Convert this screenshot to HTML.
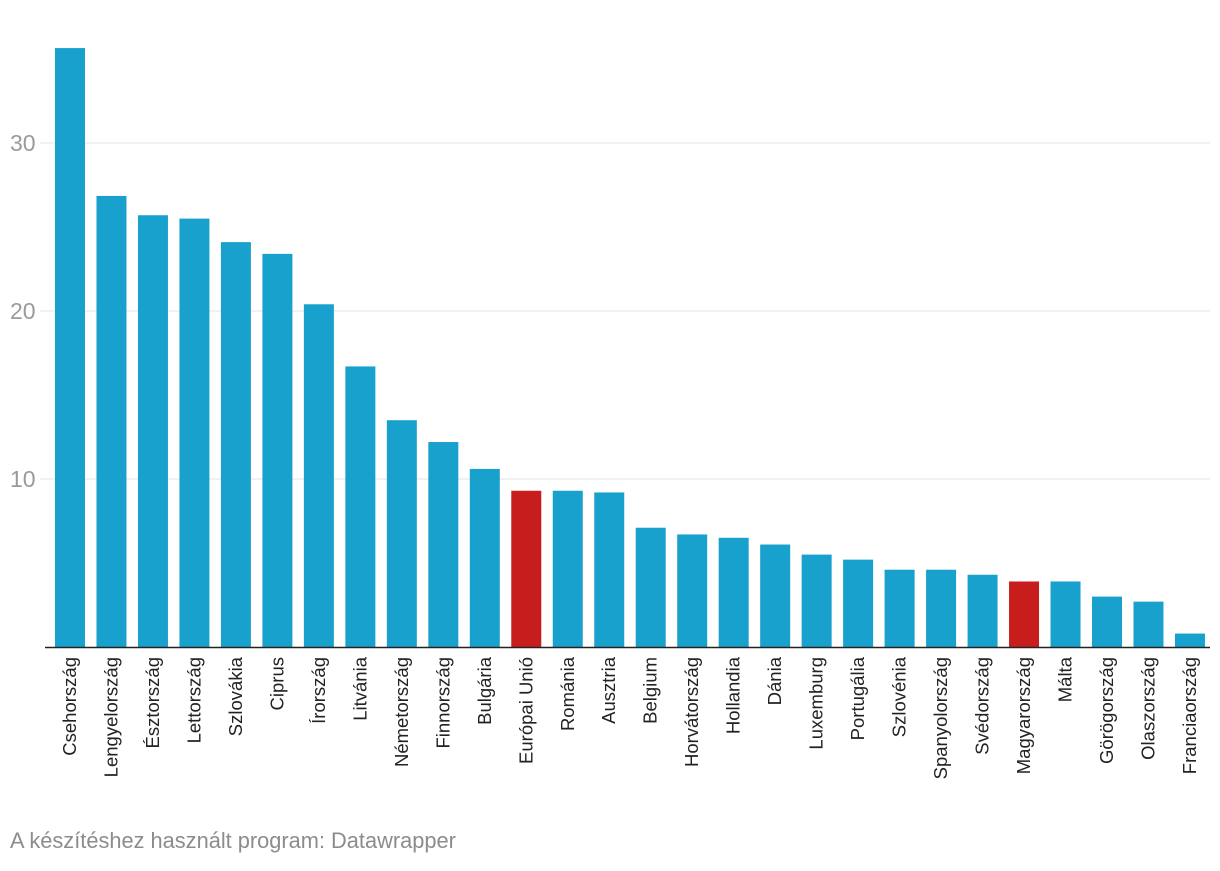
<!DOCTYPE html>
<html><head><meta charset="utf-8"><style>
body{margin:0;background:#fff;width:1220px;height:866px;overflow:hidden;font-family:"Liberation Sans",sans-serif}
</style></head><body>
<svg width="1220" height="866" id="c"></svg>
<script>
const categories=["Csehország","Lengyelország","Észtország","Lettország","Szlovákia","Ciprus","Írország","Litvánia","Németország","Finnország","Bulgária","Európai Unió","Románia","Ausztria","Belgium","Horvátország","Hollandia","Dánia","Luxemburg","Portugália","Szlovénia","Spanyolország","Svédország","Magyarország","Málta","Görögország","Olaszország","Franciaország"];
const values=[35.65,26.85,25.7,25.5,24.1,23.4,20.4,16.7,13.5,12.2,10.6,9.3,9.3,9.2,7.1,6.7,6.5,6.1,5.5,5.2,4.6,4.6,4.3,3.9,3.9,3.0,2.7,0.8];
const highlighted=["Európai Unió","Magyarország"];
const yTicks=[10,20,30];
const svg=document.getElementById('c');const NS='http://www.w3.org/2000/svg';
const y=v=>647-v*16.8;
const x=i=>55+i*41.48;
function mk(t,a,p){const e=document.createElementNS(NS,t);for(const k in a)e.setAttribute(k,a[k]);(p||svg).appendChild(e);return e;}
yTicks.forEach(t=>{
 const l=mk('line',{x1:40,x2:1210,y1:y(t),y2:y(t),stroke:'#e3e3e3','stroke-width':1});
 
 
 const tx=mk('text',{x:10,y:y(t)+8,'font-size':23,fill:'#9a9a9a'});tx.textContent=t;
 
 
});
categories.forEach((c,i)=>{
 const r=mk('rect',{x:x(i),y:y(values[i]),width:30,height:values[i]*16.8,fill:highlighted.includes(c)?'#c71e1d':'#18a1cd'});
 
 
 const cx=x(i)+15+6;
 const t=mk('text',{x:cx,y:657,'font-size':18.5,fill:'#222','text-anchor':'end',transform:`rotate(-90 ${cx} 657)`});t.textContent=c;
 
 
});
const b=mk('line',{x1:45,x2:1210,y1:647.5,y2:647.5,stroke:'#222','stroke-width':1.5});


const f=mk('text',{x:10,y:848,'font-size':21.8,fill:'#8c8c8c'});f.textContent='A készítéshez használt program: Datawrapper';


</script>
</body></html>
